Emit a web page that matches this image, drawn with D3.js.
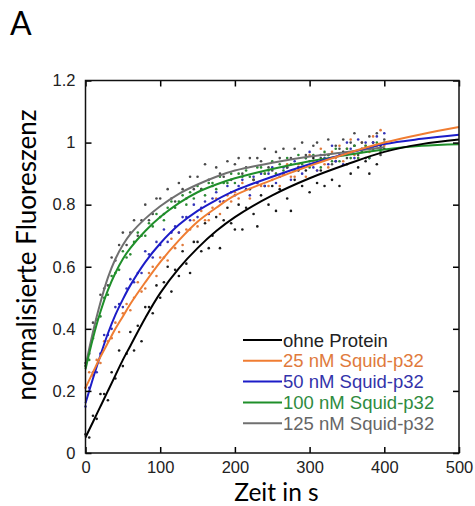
<!doctype html>
<html>
  <head>
    <meta charset="utf-8">
    <title>Fluoreszenz</title>
    <script src="https://cdnjs.cloudflare.com/ajax/libs/d3/7.8.5/d3.min.js"></script>
    <style>
      body { margin: 0; background: #fff; }
      text { font-family: "Liberation Sans", Arial, sans-serif; }
      .title { font-family: Lato, "Open Sans", sans-serif; }
    </style>
  </head>
  <body>
    <div id="root"></div>
    <script>
      // series names + colours
      let seriesNames = ['ohne Protein','25 nM Squid-p32','50 nM Squid-p32','100 nM Squid-p32','125 nM Squid-p32'];
      let lineColors = ['#000000','#f07d32','#1c1cc8','#1f8f2a','#707070'];
      let dotColors = ['#1a1a1a','#e07a3c','#3434b8','#2c8a34','#4a4a4a'];
      let textColors = ['#222222','#e07a3c','#3333aa','#2e8b3e','#666666'];

      // fitted curves
      let fitTime = [0,10,20,30,40,50,60,80,100,125,150,175,200,250,300,350,400,450,500];
      let fitBlack  = [0.05,0.10,0.15,0.20,0.25,0.30,0.345,0.435,0.515,0.595,0.66,0.715,0.76,0.83,0.885,0.93,0.97,0.995,1.01];
      let fitOrange = [0.21,0.26,0.31,0.355,0.40,0.44,0.48,0.55,0.615,0.685,0.745,0.79,0.83,0.88,0.925,0.965,1.0,1.027,1.05];
      let fitBlue   = [0.16,0.24,0.315,0.385,0.445,0.495,0.54,0.615,0.675,0.735,0.78,0.815,0.845,0.89,0.93,0.965,0.995,1.012,1.025];
      let fitGreen  = [0.27,0.37,0.455,0.525,0.58,0.625,0.66,0.715,0.76,0.805,0.84,0.865,0.885,0.915,0.94,0.96,0.978,0.99,0.995];
      let fitGray   = [0.28,0.39,0.485,0.565,0.625,0.67,0.705,0.755,0.795,0.835,0.865,0.89,0.91,0.935,0.955,0.97,0.985];

      // measured points, every 5 s from 0 to 400
      let dotTime = d3.range(0, 401, 5);
      let dotsBlack = [0.06,0.05,0.12,0.11,0.19,0.19,0.17,0.26,0.24,0.33,0.28,0.32,0.39,0.33,0.41,0.36,0.47,0.47,0.45,0.54,0.50,
        0.55,0.60,0.52,0.59,0.57,0.65,0.61,0.58,0.68,0.68,0.65,0.74,0.66,0.70,0.76,0.66,0.75,0.79,0.74,0.72,
        0.80,0.72,0.79,0.85,0.77,0.73,0.83,0.86,0.80,0.86,0.78,0.85,0.90,0.82,0.78,0.88,0.91,0.86,0.91,0.84,
        0.95,0.87,0.91,0.86,0.96,0.88,0.94,0.86,0.97,0.93,0.90,0.99,0.92,0.98,0.94,0.90,1.00,0.93,0.99,0.98];
      let dotsOrange = [0.21,0.26,0.25,0.30,0.29,0.36,0.36,0.37,0.42,0.39,0.45,0.48,0.46,0.50,0.55,0.52,0.53,0.58,0.60,0.57,0.63,
        0.63,0.62,0.69,0.66,0.71,0.67,0.72,0.72,0.75,0.73,0.78,0.75,0.75,0.79,0.82,0.77,0.81,0.83,0.81,0.84,
        0.82,0.87,0.85,0.82,0.88,0.87,0.86,0.90,0.86,0.88,0.90,0.86,0.90,0.93,0.89,0.89,0.93,0.92,0.89,0.96,
        0.94,0.91,0.98,0.93,0.92,0.97,0.95,0.99,0.94,0.98,1.01,0.96,0.95,1.00,0.99,0.97,1.02,0.99,1.04,0.99];
      let dotsBlue = [0.15,0.21,0.26,0.26,0.32,0.38,0.38,0.40,0.47,0.48,0.47,0.53,0.56,0.55,0.58,0.58,0.65,0.64,0.63,0.68,0.67,
        0.72,0.68,0.71,0.73,0.71,0.76,0.76,0.75,0.80,0.76,0.79,0.81,0.77,0.82,0.84,0.81,0.81,0.86,0.84,0.83,
        0.86,0.88,0.85,0.83,0.89,0.87,0.90,0.86,0.90,0.92,0.87,0.89,0.92,0.92,0.88,0.94,0.92,0.90,0.95,0.97,
        0.92,0.91,0.96,0.95,0.93,0.99,0.94,0.96,0.93,1.00,0.98,0.95,1.01,0.97,1.00,0.95,1.00,1.02,0.98,1.03];
      let dotsGreen = [0.28,0.30,0.37,0.43,0.44,0.50,0.51,0.57,0.58,0.59,0.65,0.63,0.64,0.68,0.71,0.70,0.70,0.74,0.73,0.77,0.76,
        0.75,0.79,0.81,0.79,0.81,0.83,0.80,0.84,0.82,0.86,0.85,0.83,0.87,0.87,0.85,0.89,0.87,0.87,0.90,0.87,
        0.90,0.89,0.91,0.89,0.88,0.92,0.92,0.90,0.91,0.94,0.90,0.93,0.91,0.95,0.93,0.91,0.96,0.93,0.95,0.92,
        0.96,0.94,0.92,0.97,0.96,0.94,0.98,0.94,0.96,0.98,0.95,0.99,0.95,0.97,0.99,0.95,0.98,1.00,0.97,1.00];
      let dotsGray = [0.29,0.32,0.42,0.43,0.51,0.53,0.54,0.63,0.62,0.67,0.71,0.67,0.71,0.75,0.70,0.75,0.80,0.75,0.77,0.82,0.82,
        0.77,0.85,0.82,0.81,0.87,0.85,0.82,0.89,0.85,0.89,0.85,0.93,0.88,0.86,0.92,0.90,0.89,0.94,0.88,0.93,
        0.95,0.90,0.92,0.95,0.88,0.95,0.94,0.98,0.92,0.91,0.97,0.95,0.98,0.92,0.95,0.98,0.92,1.00,0.96,0.94,
        0.99,1.00,0.95,0.96,1.01,0.93,0.99,0.98,1.01,0.95,1.00,1.03,0.96,1.00,0.95,1.02,0.98,1.03,0.96,1.01];

      let xTicks = [0,100,200,300,400,500];
      let yTicks = [0,0.2,0.4,0.6,0.8,1,1.2];

      let fits = [fitBlack, fitOrange, fitBlue, fitGreen, fitGray];
      let dots = [dotsBlack, dotsOrange, dotsBlue, dotsGreen, dotsGray];

      let width = 475, height = 506,
      plot = {left: 85.5, right: 459, top: 80.5, bottom: 453};

      let svg = d3.select('#root')
        .append('svg')
        .attr('width', width)
        .attr('height', height);

      let xScale = d3.scaleLinear().domain([0,500]).range([plot.left, plot.right]);
      let yScale = d3.scaleLinear().domain([0,1.2]).range([plot.bottom, plot.top]);

      // dots first, lines on top
      [0,1,2,3,4].forEach(i => {
        svg.append('g')
          .selectAll('circle')
          .data(dots[i])
          .enter()
          .append('circle')
          .attr('cx', (d,j) => xScale(dotTime[j]))
          .attr('cy', d => yScale(d))
          .attr('r', 1.3)
          .attr('fill', dotColors[i]);
      });

      let line = d3.line()
        .x(d => xScale(d[0]))
        .y(d => yScale(d[1]))
        .curve(d3.curveCatmullRom.alpha(0.5));

      [4,3,2,1,0].forEach(i => {
        svg.append('path')
          .datum(fits[i].map((v,j) => [fitTime[j], v]))
          .attr('d', line)
          .attr('fill', 'none')
          .attr('stroke', lineColors[i])
          .attr('stroke-width', 2);
      });

      // axes: inward ticks on all four sides
      let tickLen = 6;
      svg.append('g')
        .attr('transform', 'translate(0,' + plot.bottom + ')')
        .call(d3.axisBottom(xScale).tickValues(xTicks).tickSize(-tickLen).tickPadding(8).tickFormat(d3.format('d')))
        .call(g => g.selectAll('text').attr('font-size', 16.5).attr('fill', '#222'));
      svg.append('g')
        .attr('transform', 'translate(0,' + plot.top + ')')
        .call(d3.axisTop(xScale).tickValues(xTicks).tickSize(-tickLen).tickFormat(''));
      svg.append('g')
        .attr('transform', 'translate(' + plot.left + ',0)')
        .call(d3.axisLeft(yScale).tickValues(yTicks).tickSize(-tickLen).tickPadding(10).tickFormat(d => d))
        .call(g => g.selectAll('text').attr('font-size', 16.5).attr('fill', '#222'));
      svg.append('g')
        .attr('transform', 'translate(' + plot.right + ',0)')
        .call(d3.axisRight(yScale).tickValues(yTicks).tickSize(-tickLen).tickFormat(''));
      svg.selectAll('.domain').remove();
      svg.selectAll('.tick line').attr('stroke-width', 1.5);

      svg.append('rect')
        .attr('x', plot.left)
        .attr('y', plot.top)
        .attr('width', plot.right - plot.left)
        .attr('height', plot.bottom - plot.top)
        .attr('fill', 'none')
        .attr('stroke', '#111')
        .attr('stroke-width', 1.5);

      // titles
      svg.append('text')
        .attr('class', 'title')
        .attr('x', 10)
        .attr('y', 35)
        .attr('font-size', 32)
        .text('A');
      svg.append('text')
        .attr('class', 'title')
        .attr('x', 276.5)
        .attr('y', 501)
        .attr('text-anchor', 'middle')
        .attr('font-size', 24.5)
        .text('Zeit in s');
      svg.append('text')
        .attr('class', 'title')
        .attr('transform', 'translate(36,255) rotate(-90)')
        .attr('text-anchor', 'middle')
        .attr('font-size', 26)
        .text('normalisierte Fluoreszenz');

      // legend
      let legend = svg.append('g').attr('transform', 'translate(243,340)');
      seriesNames.forEach((name, i) => {
        let row = legend.append('g').attr('transform', 'translate(0,' + (i * 20.8) + ')');
        row.append('line')
          .attr('x1', 0).attr('x2', 39)
          .attr('y1', 0).attr('y2', 0)
          .attr('stroke', lineColors[i])
          .attr('stroke-width', 2);
        row.append('text')
          .attr('x', 40)
          .attr('y', 0)
          .attr('dy', '0.36em')
          .attr('font-size', 18.5)
          .attr('fill', textColors[i])
          .text(name);
      });
    </script>
  </body>
</html>
